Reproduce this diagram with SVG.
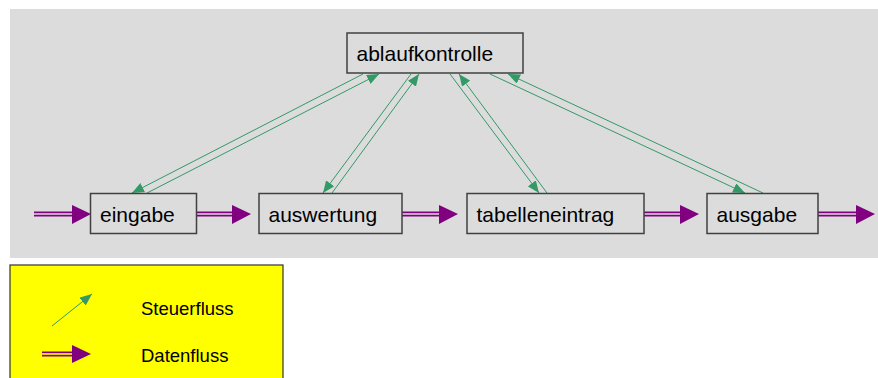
<svg xmlns="http://www.w3.org/2000/svg" width="878" height="378" viewBox="0 0 878 378">
<style>
.node rect{fill:#dcdcdc;stroke:#404040;stroke-width:1.5}
.node text,.legend text{font-family:"Liberation Sans",Arial,sans-serif;fill:#000}
.node text{font-size:21px}
.legend text{font-size:18.5px}
.ctl{stroke:#339966;stroke-width:1;fill:none;marker-end:url(#gh)}
.dout{stroke:#800080;stroke-width:5;fill:none}
.din{stroke-width:1.6;fill:none}
.dh{fill:#800080}
</style>
<defs>
<marker id="gh" viewBox="0 0 12 10" refX="12" refY="5" markerWidth="12" markerHeight="10" markerUnits="userSpaceOnUse" orient="auto">
<path d="M0,0 L12,5 L0,10 Z" fill="#339966"/>
</marker>
</defs>
<rect x="10" y="9" width="868" height="249" fill="#dcdcdc"/>
<g id="connectors">
<line class="ctl" x1="363" y1="74" x2="132" y2="193"/>
<line class="ctl" x1="147" y1="193" x2="379" y2="74"/>
<line class="ctl" x1="411" y1="74" x2="323" y2="193"/>
<line class="ctl" x1="332" y1="193" x2="419" y2="74"/>
<line class="ctl" x1="450" y1="74" x2="539" y2="193"/>
<line class="ctl" x1="547" y1="193" x2="459" y2="74"/>
<line class="ctl" x1="490" y1="74" x2="745" y2="193"/>
<line class="ctl" x1="763" y1="193" x2="508" y2="74"/>
<g id="d1"><line class="dout" x1="34" y1="214" x2="73" y2="214"/><line class="din" stroke="#dcdcdc" x1="34" y1="214" x2="73" y2="214"/><path class="dh" d="M72,205 L91,214 L72,224 Z"/></g>
<g id="d2"><line class="dout" x1="194" y1="214" x2="233" y2="214"/><line class="din" stroke="#dcdcdc" x1="194" y1="214" x2="233" y2="214"/><path class="dh" d="M232,205 L251,214 L232,224 Z"/></g>
<g id="d3"><line class="dout" x1="402" y1="214" x2="440" y2="214"/><line class="din" stroke="#dcdcdc" x1="402" y1="214" x2="440" y2="214"/><path class="dh" d="M439,205 L458,214 L439,224 Z"/></g>
<g id="d4"><line class="dout" x1="642" y1="214" x2="681" y2="214"/><line class="din" stroke="#dcdcdc" x1="642" y1="214" x2="681" y2="214"/><path class="dh" d="M680,205 L699,214 L680,224 Z"/></g>
<g id="d5"><line class="dout" x1="818" y1="214" x2="857" y2="214"/><line class="din" stroke="#dcdcdc" x1="818" y1="214" x2="857" y2="214"/><path class="dh" d="M856,205 L875,214 L856,224 Z"/></g>
</g>
<g id="ablaufkontrolle" class="node"><rect x="347" y="33" width="176" height="40"/><text x="356.5" y="60.5">ablaufkontrolle</text></g>
<g id="eingabe" class="node"><rect x="90.5" y="193.5" width="106" height="40"/><text x="100" y="221.5">eingabe</text></g>
<g id="auswertung" class="node"><rect x="259" y="193.5" width="143" height="40"/><text x="268.5" y="221.5">auswertung</text></g>
<g id="tabelleneintrag" class="node"><rect x="467" y="193.5" width="177" height="40"/><text x="476.5" y="221.5">tabelleneintrag</text></g>
<g id="ausgabe" class="node"><rect x="707" y="193.5" width="111" height="40"/><text x="716.5" y="221.5">ausgabe</text></g>
<g id="legend" class="legend">
<rect x="10" y="265" width="273" height="120" fill="#ffff00" stroke="#333" stroke-width="1.2"/>
<line class="ctl" x1="52" y1="326" x2="92" y2="294"/>
<line class="dout" x1="42" y1="354" x2="73" y2="354"/><line class="din" stroke="#ffff00" x1="42" y1="354" x2="73" y2="354"/><path class="dh" d="M72,345 L91,354 L72,363 Z"/>
<text x="141" y="315">Steuerfluss</text>
<text x="141" y="362">Datenfluss</text>
</g>
</svg>
